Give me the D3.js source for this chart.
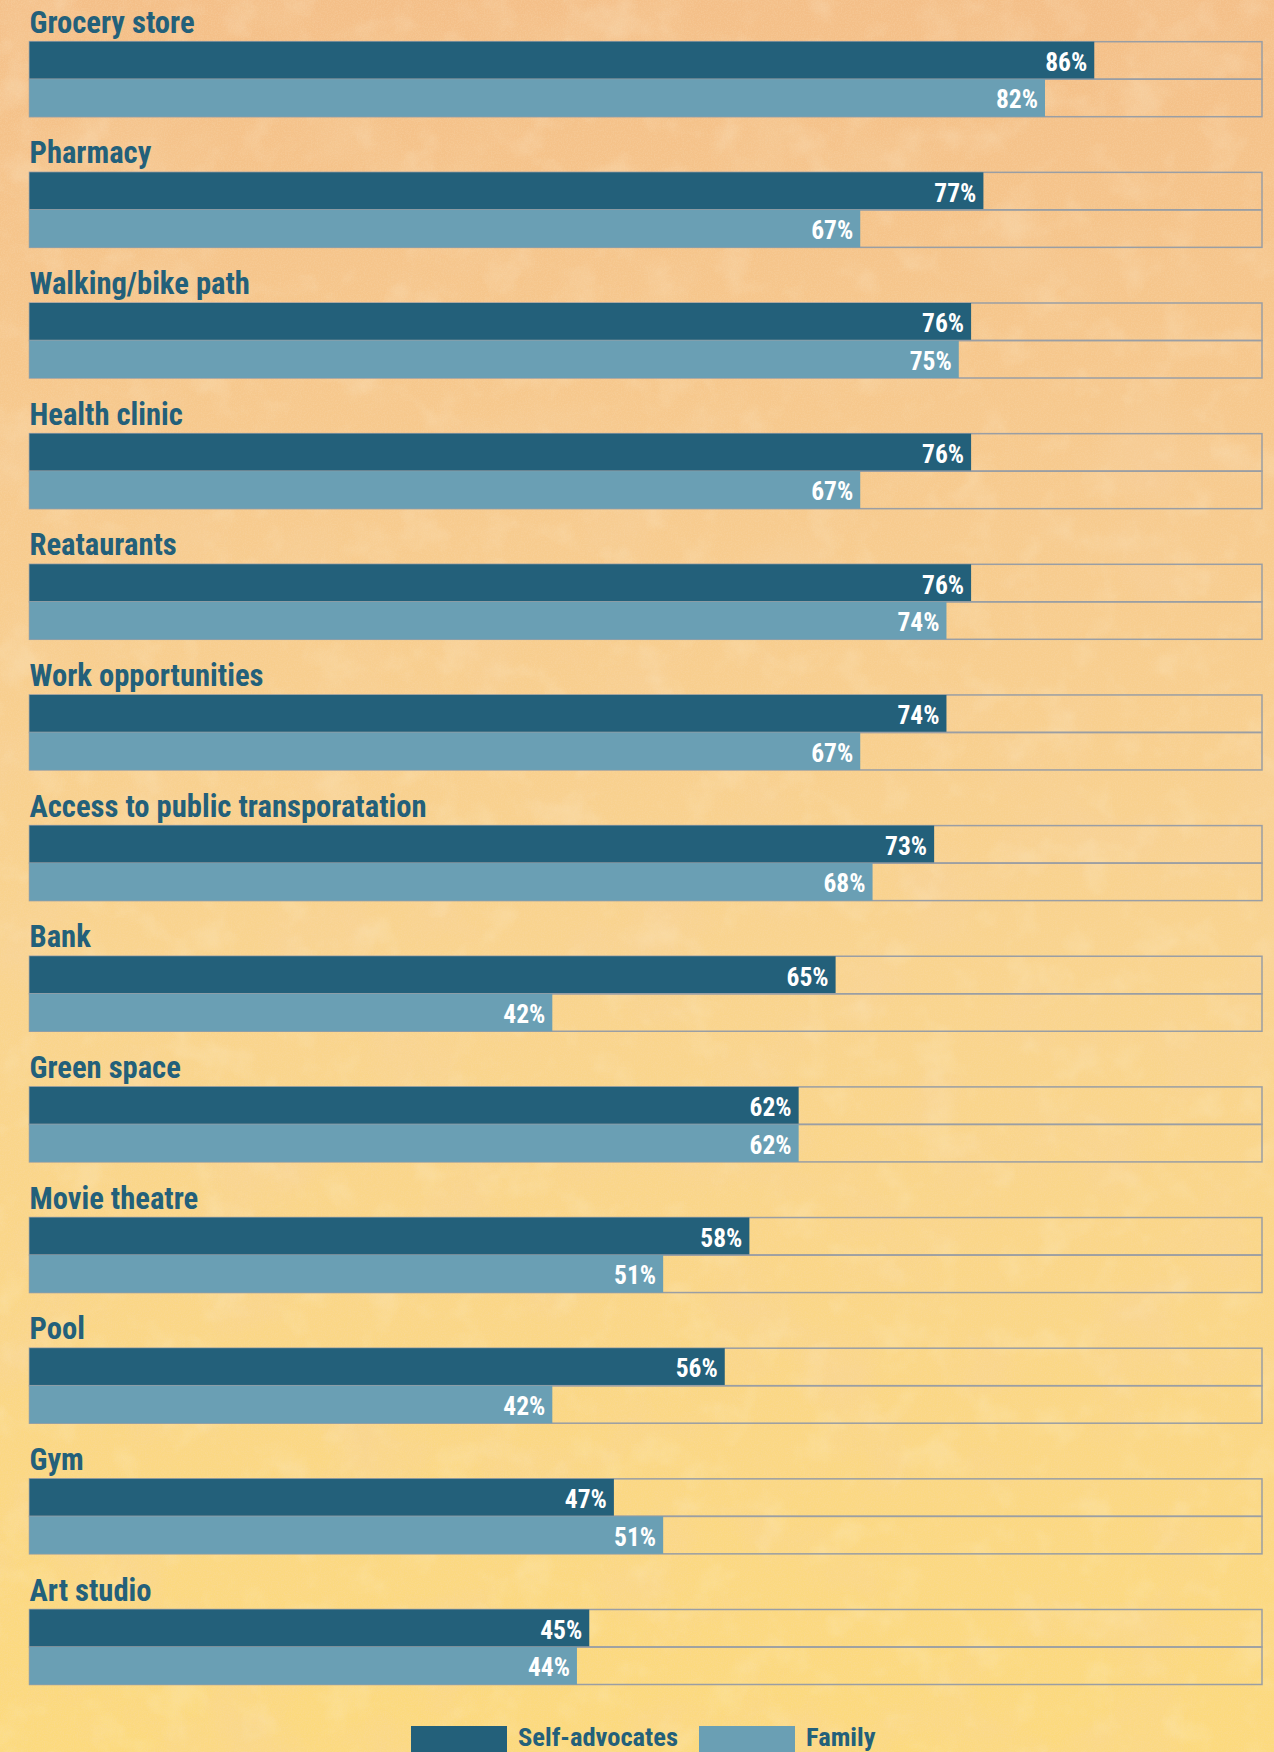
<!DOCTYPE html>
<html>
<head>
<meta charset="utf-8">
<script src="https://cdn.jsdelivr.net/npm/d3@7"></script>
<style>
  html, body { margin: 0; padding: 0; background: #f8cf86; }
  svg { display: block; }
  .cat { font-family: "Roboto Condensed", "Liberation Sans Narrow", "Roboto", sans-serif; font-stretch: condensed; font-weight: 700; fill: #23607a; }
  .val { font-family: "Roboto Condensed", "Liberation Sans Narrow", "Roboto", sans-serif; font-stretch: condensed; font-weight: 700; fill: #ffffff; }
</style>
</head>
<body>
<script>
// Share of respondents who say each place is important in their neighbourhood
const categories = [
  "Grocery store", "Pharmacy", "Walking/bike path", "Health clinic", "Reataurants",
  "Work opportunities", "Access to public transporatation", "Bank", "Green space",
  "Movie theatre", "Pool", "Gym", "Art studio"
];
const selfAdvocates = [86, 77, 76, 76, 76, 74, 73, 65, 62, 58, 56, 47, 45];
const family        = [82, 67, 75, 67, 74, 67, 68, 42, 62, 51, 42, 51, 44];
const seriesNames = ["Self-advocates", "Family"];
const seriesColors = ["#23607a", "#6a9fb4"];

const W = 1274, H = 1752;
const left = 29.5, trackRight = 1262;
const firstTop = 41.7, step = 130.65, barH = 37.5;

const svg = d3.select("body").append("svg").attr("width", W).attr("height", H);
const defs = svg.append("defs");

// parchment background: warm gradient with mottled patches and fine grain
const grad = defs.append("linearGradient").attr("id", "paper").attr("x1", 0).attr("y1", 0).attr("x2", 0).attr("y2", 1);
grad.append("stop").attr("offset", "0%").attr("stop-color", "#f4bf88");
grad.append("stop").attr("offset", "30%").attr("stop-color", "#f7cb8e");
grad.append("stop").attr("offset", "55%").attr("stop-color", "#f9d48e");
grad.append("stop").attr("offset", "100%").attr("stop-color", "#fcda7d");

// darker orange blotches
const fDark = defs.append("filter").attr("id", "blotch").attr("x", 0).attr("y", 0).attr("width", "100%").attr("height", "100%");
fDark.append("feTurbulence").attr("type", "fractalNoise").attr("baseFrequency", "0.01").attr("numOctaves", 4).attr("seed", 11);
fDark.append("feColorMatrix").attr("type", "matrix")
  .attr("values", "0 0 0 0 0.93  0 0 0 0 0.66  0 0 0 0 0.38  3 0 0 0 -1.5");

// pale highlights
const fLight = defs.append("filter").attr("id", "pale").attr("x", 0).attr("y", 0).attr("width", "100%").attr("height", "100%");
fLight.append("feTurbulence").attr("type", "fractalNoise").attr("baseFrequency", "0.025").attr("numOctaves", 4).attr("seed", 4);
fLight.append("feColorMatrix").attr("type", "matrix")
  .attr("values", "0 0 0 0 1  0 0 0 0 0.96  0 0 0 0 0.8  0 3 0 0 -1.55");

// fine grain
const fGrain = defs.append("filter").attr("id", "grain").attr("x", 0).attr("y", 0).attr("width", "100%").attr("height", "100%");
fGrain.append("feTurbulence").attr("type", "fractalNoise").attr("baseFrequency", "0.7").attr("numOctaves", 2).attr("seed", 3);
fGrain.append("feColorMatrix").attr("type", "matrix")
  .attr("values", "0 0 0 0 0.95  0 0 0 0 0.7  0 0 0 0 0.45  0 0 3 0 -1.2");

svg.append("rect").attr("width", W).attr("height", H).attr("fill", "url(#paper)");
svg.append("rect").attr("width", W).attr("height", H).attr("filter", "url(#blotch)").attr("opacity", 0.28);
svg.append("rect").attr("width", W).attr("height", H).attr("filter", "url(#pale)").attr("opacity", 0.16);
svg.append("rect").attr("width", W).attr("height", H).attr("filter", "url(#grain)").attr("opacity", 0.22);

// value scale: percent -> pixel
const x = d3.scaleLinear().domain([0, 100]).range([35, 1266.7]);

const rows = categories.map((c, i) => ({ c, i, vals: [selfAdvocates[i], family[i]] }));

const g = svg.selectAll("g.row").data(rows).join("g").attr("class", "row")
  .attr("transform", d => `translate(0,${firstTop + d.i * step})`);

g.append("text").attr("class", "cat")
  .attr("x", left).attr("y", -9)
  .attr("font-size", 30.6)
  .text(d => d.c);

const bars = g.selectAll("g.bar").data(d => d.vals.map((v, k) => ({ v, k }))).join("g").attr("class", "bar")
  .attr("transform", d => `translate(0,${d.k * barH})`);

bars.append("rect")
  .attr("x", left).attr("y", 0)
  .attr("width", trackRight - left).attr("height", barH)
  .attr("fill", "none").attr("stroke", "#9a9ea4").attr("stroke-width", 1.5);

bars.append("rect")
  .attr("x", left).attr("y", 0)
  .attr("width", d => x(d.v) - left).attr("height", barH)
  .attr("fill", d => seriesColors[d.k]);

bars.append("text").attr("class", "val")
  .attr("x", d => x(d.v) - 7).attr("y", barH / 2 + 10.5)
  .attr("text-anchor", "end").attr("font-size", 25.5)
  .text(d => d.v + "%");

// legend
const legend = svg.append("g").attr("transform", "translate(0,1726)");
const lx = [411, 699];
seriesNames.forEach((name, k) => {
  legend.append("rect").attr("x", lx[k]).attr("y", 0).attr("width", 96).attr("height", 26).attr("fill", seriesColors[k]);
  legend.append("text").attr("class", "cat").attr("x", lx[k] + 107).attr("y", 20)
    .attr("font-size", 26.5).text(name);
});
</script>
</body>
</html>
